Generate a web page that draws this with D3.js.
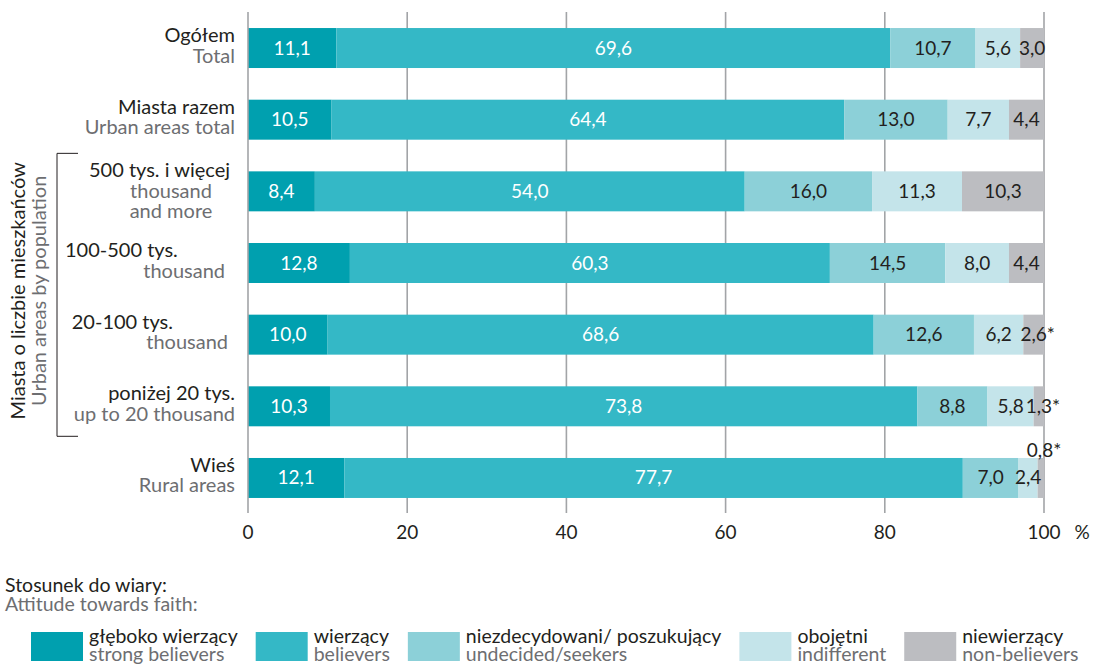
<!DOCTYPE html>
<html><head><meta charset="utf-8">
<script src="https://cdn.jsdelivr.net/npm/d3@7"></script>
<style>
body{margin:0;background:#fff;}
svg{font-family:"Lato","Noto Sans",sans-serif;}
</style></head>
<body><svg id="c" width="1095" height="665"></svg>
<script>
// ---- data ----
const categories = ["Ogółem","Miasta razem","500+","100-500","20-100","<20","Wieś"];
const labelPl = ["Ogółem","Miasta razem","500 tys. i więcej","100-500 tys.","20-100 tys.","poniżej 20 tys.","Wieś"];
const labelEn = [["Total"],["Urban areas total"],["thousand","and more"],["thousand"],["thousand"],["up to 20 thousand"],["Rural areas"]];
const seriesKeys = ["strong","believers","undecided","indifferent","non"];
const seriesPl = ["głęboko wierzący","wierzący","niezdecydowani/ poszukujący","obojętni","niewierzący"];
const seriesEn = ["strong believers","believers","undecided/seekers","indifferent","non-believers"];
const strongVals      = [11.1,10.5,8.4,12.8,10.0,10.3,12.1];
const believerVals    = [69.6,64.4,54.0,60.3,68.6,73.8,77.7];
const undecidedVals   = [10.7,13.0,16.0,14.5,12.6,8.8,7.0];
const indifferentVals = [5.6,7.7,11.3,8.0,6.2,5.8,2.4];
const nonVals         = [3.0,4.4,10.3,4.4,2.6,1.3,0.8];
const starred = [[],[],[],[],["non"],["non"],["non"]];
const xTicks = [0,20,40,60,80,100];
const groupTitlePl = "Miasta o liczbie mieszkańców";
const groupTitleEn = "Urban areas by population";
const legendTitlePl = "Stosunek do wiary:";
const legendTitleEn = "Attitude towards faith:";

const colors = ["#00a0af","#34b8c6","#8cd0d8","#c4e4ea","#bcbdc1"];
const textDark = "#231f20", textGray = "#6d6e71", gridCol = "#a2a4a7";
const FS = 20, FV = 19, FL = 19.5;

const rows = categories.map((c,i)=>({cat:c, strong:strongVals[i], believers:believerVals[i], undecided:undecidedVals[i], indifferent:indifferentVals[i], non:nonVals[i]}));

const svg = d3.select("#c");
const x = d3.scaleLinear().domain([0,100]).range([248,1044]);
const y = d3.scaleBand().domain(categories).range([12.2,513.8]).paddingInner(0.442).paddingOuter(0.221);
const color = d3.scaleOrdinal().domain(seriesKeys).range(colors);

// grid
const gridTop = 12, gridBot = 513;
svg.append("g").selectAll("line").data(xTicks.filter(t=>t>0)).join("line")
  .attr("x1",d=>x(d)).attr("x2",d=>x(d)).attr("y1",gridTop).attr("y2",gridBot)
  .attr("stroke",gridCol).attr("stroke-width",1.6);

// bars
const stack = d3.stack().keys(seriesKeys)(rows);
const gs = svg.append("g").selectAll("g").data(stack).join("g").attr("fill",d=>color(d.key));
gs.selectAll("rect").data(d=>d.map(v=>({v,key:d.key}))).join("rect")
  .attr("x",d=>x(d.v[0])).attr("width",d=>x(d.v[1])-x(d.v[0]))
  .attr("y",d=>y(d.v.data.cat)).attr("height",y.bandwidth());

// axis line at 0
svg.append("line").attr("x1",x(0)).attr("x2",x(0)).attr("y1",gridTop).attr("y2",gridBot)
  .attr("stroke",gridCol).attr("stroke-width",1.6);

// value labels
const fmt = v => d3.format(".1f")(v).replace(".",",");
const lab = svg.append("g").attr("font-size",FV);
stack.forEach((s,si)=>{
  s.forEach((v,ri)=>{
    const key = s.key, val = v[1]-v[0];
    let cx = x((v[0]+v[1])/2);
    let cy = y(v.data.cat)+y.bandwidth()/2+6.5;
    const star = starred[ri].includes(key);
    if (key==="non" && val<1) { cy = y(v.data.cat)-1; cx = x(100)-4; }
    const t = lab.append("text").attr("x",cx).attr("y",cy).attr("text-anchor","middle")
      .attr("fill", si<2 ? "#fff" : textDark).text(fmt(val));
    if (star) {
      const w = t.node().getComputedTextLength();
      lab.append("text").attr("x",cx+w/2).attr("y",cy).attr("fill",textDark).text("*");
    }
  });
});

// x tick labels
const ax = svg.append("g").attr("font-size",FV).attr("fill",textDark);
ax.selectAll("text").data(xTicks).join("text").attr("x",d=>x(d)).attr("y",539)
  .attr("text-anchor","middle").text(d=>d);
ax.append("text").attr("x",1082).attr("y",539).attr("text-anchor","middle").text("%");

// category labels
const cl = svg.append("g").attr("font-size",FS);
categories.forEach((c,i)=>{
  const cy = y(c)+y.bandwidth()/2;
  const nEn = labelEn[i].length;
  let y0 = nEn===2 ? cy-14 : cy-6;
  let anchor="end", xPl=235, xEn=235, anchorPl="end";
  if (i===2){ xPl=230; anchor="middle"; xEn=171; }
  if (i===3){ xPl=65; anchorPl="start"; xEn=225; }
  if (i===4){ xPl=173; xEn=228; }
  cl.append("text").attr("x",xPl).attr("y",y0).attr("text-anchor",anchorPl).attr("fill",textDark).text(labelPl[i]);
  labelEn[i].forEach((ln,j)=>{
    cl.append("text").attr("x",xEn).attr("y",y0+20.5*(j+1)).attr("text-anchor",anchor).attr("fill",textGray).text(ln);
  });
});

// bracket
const bTop = y(categories[2])-18, bBot = y(categories[5])+y.bandwidth()+10;
svg.append("path").attr("d",`M78,${bTop}H57V${bBot}H78`).attr("fill","none").attr("stroke",textDark).attr("stroke-width",1);
const bMid = (bTop+bBot)/2 - 4;
svg.append("text").attr("transform",`translate(25,${bMid}) rotate(-90)`).attr("text-anchor","middle")
  .attr("font-size",FS).attr("fill",textDark).text(groupTitlePl);
svg.append("text").attr("transform",`translate(46,${bMid}) rotate(-90)`).attr("text-anchor","middle")
  .attr("font-size",FS).attr("fill",textGray).text(groupTitleEn);

// legend
const lg = svg.append("g").attr("font-size",FL);
lg.append("text").attr("x",5).attr("y",592).attr("fill",textDark).text(legendTitlePl);
lg.append("text").attr("x",5).attr("y",611).attr("fill",textGray).text(legendTitleEn);
let lx = 31;
seriesKeys.forEach((k,i)=>{
  lg.append("rect").attr("x",lx).attr("y",632).attr("width",52).attr("height",29).attr("fill",color(k));
  const t1 = lg.append("text").attr("x",lx+58).attr("y",643).attr("fill",textDark).text(seriesPl[i]);
  const t2 = lg.append("text").attr("x",lx+58).attr("y",661).attr("fill",textGray).text(seriesEn[i]);
  const w = Math.max(t1.node().getComputedTextLength(), t2.node().getComputedTextLength());
  lx = lx+58+w+18;
});
</script></body></html>
